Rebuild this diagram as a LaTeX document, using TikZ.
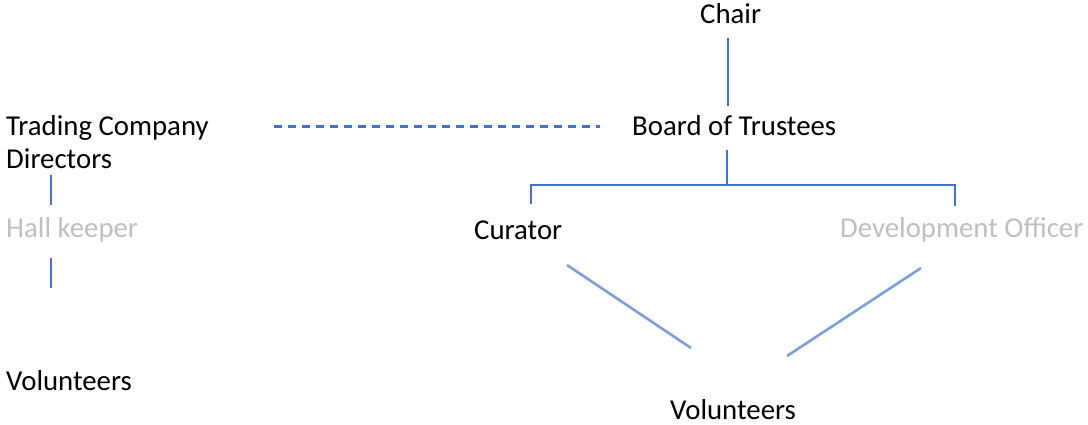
\documentclass[tikz,border=0pt]{standalone}
\usepackage{fontspec}
\setmainfont{Carlito}
\definecolor{lineblue}{HTML}{4472C4}
\definecolor{lightblue}{HTML}{7F9FD8}
\definecolor{graytext}{HTML}{BFBFBF}
\tikzset{
  lbl/.style={anchor=west, inner sep=0pt, font=\fontsize{28.8}{33}\selectfont, text=black},
  dim/.style={lbl, text=graytext},
  conn/.style={draw=lineblue, line width=2.2pt},
  diag/.style={draw=lightblue, line width=2.6pt},
  dashconn/.style={conn, dash pattern=on 8pt off 6pt}
}
\begin{document}
\begin{tikzpicture}[x=1pt,y=-1pt]
\useasboundingbox (0,0) rectangle (1088,424);
% nodes
\node[lbl] (chair) at (700,14) {Chair};
\node[lbl] (board) at (632,126) {Board of Trustees};
\node[lbl, align=left] (trading) at (6,142.5) {Trading Company\\Directors};
\node[dim] (hall) at (6,230) {Hall keeper};
\node[lbl] (volL) at (6,381) {Volunteers};
\node[lbl] (curator) at (474,230) {Curator};
\node[dim] (dev) at (840,230) {Development Officer};
\node[lbl] (volR) at (670,410) {Volunteers};
% coordinates
\coordinate (c1) at (728,38);
\coordinate (c2) at (728,106);
\coordinate (d1) at (274,126.5);
\coordinate (d2) at (600,126.5);
\coordinate (b1) at (727,150);
\coordinate (b2) at (727,185);
\coordinate (bl) at (531,185);
\coordinate (br) at (955,185);
\coordinate (blt) at (531,204);
\coordinate (brt) at (955,206);
\coordinate (l1) at (51,175);
\coordinate (l2) at (51,205);
\coordinate (l3) at (51,258);
\coordinate (l4) at (51,288);
\coordinate (g1) at (567,265);
\coordinate (g2) at (691,348);
\coordinate (h1) at (921,268);
\coordinate (h2) at (787,356);
% connectors
\draw[conn] (c1) -- (c2);
\draw[dashconn] (d1) -- (d2);
\draw[conn] (b1) -- (b2);
\draw[conn] (blt) -- (bl) -- (br) -- (brt);
\draw[conn] (l1) -- (l2);
\draw[conn] (l3) -- (l4);
\draw[diag] (g1) -- (g2);
\draw[diag] (h1) -- (h2);
\end{tikzpicture}
\end{document}
